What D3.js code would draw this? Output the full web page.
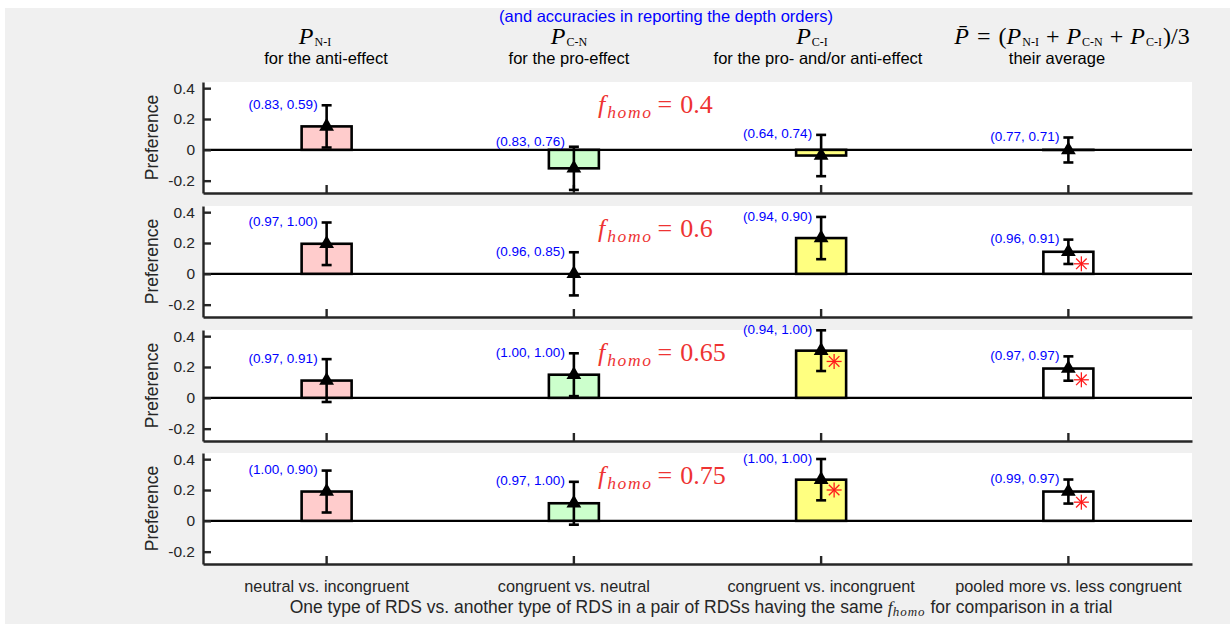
<!DOCTYPE html>
<html><head><meta charset="utf-8">
<script src="https://cdn.jsdelivr.net/npm/d3@7"></script>
<style>
html,body{margin:0;padding:0;background:#fff;}
svg{display:block;}
</style></head>
<body>
<svg id="chart" width="1230" height="624"></svg>
<script>
// ---------------- data ----------------
const categories = ["neutral vs. incongruent", "congruent vs. neutral", "congruent vs. incongruent", "pooled more vs. less congruent"];
const fhomoLabels = ["0.4", "0.6", "0.65", "0.75"];
// mean preference per panel (rows: f_homo) and category (cols)
const means = [
  [0.152, -0.120, -0.037, -0.001],
  [0.195,  0.000,  0.232,  0.143],
  [0.112,  0.150,  0.306,  0.190],
  [0.190,  0.114,  0.267,  0.190]
];
// half-length of error bars
const errs = [
  [0.137, 0.140, 0.134, 0.081],
  [0.138, 0.140, 0.137, 0.079],
  [0.139, 0.139, 0.132, 0.079],
  [0.136, 0.139, 0.134, 0.078]
];
// significance asterisks (null = none)
const stars = [
  [null, null, null, null],
  [null, null, null, 0.065],
  [null, null, 0.236, 0.117],
  [null, null, 0.200, 0.121]
];
// accuracies in reporting depth orders (first, second)
const accA = [
  [0.83, 0.83, 0.64, 0.77],
  [0.97, 0.96, 0.94, 0.96],
  [0.97, 1.00, 0.94, 0.97],
  [1.00, 0.97, 1.00, 0.99]
];
const accB = [
  [0.59, 0.76, 0.74, 0.71],
  [1.00, 0.85, 0.90, 0.91],
  [0.91, 1.00, 1.00, 0.97],
  [0.90, 1.00, 1.00, 0.97]
];
const yTicks = [-0.2, 0, 0.2, 0.4];
const yTickLabels = ["-0.2", "0", "0.2", "0.4"];
const headerSubs = ["N-I", "C-N", "C-I"];
const headerTexts = ["for the anti-effect", "for the pro-effect", "for the pro- and/or anti-effect", "their average"];
const barColors = ["#ffcccc", "#ccffcc", "#ffff80", "#ffffff"];

// ---------------- layout ----------------
const svg = d3.select("#chart");
const W = 1230, H = 624;
const axL = 203, axR = 1192;
const panelTops = [82, 206, 330, 453];
const panelH = 111;
const axisColor = "#262626";
const sans = "'Liberation Sans', Arial, Helvetica, sans-serif";
const serif = "'Liberation Serif', 'DejaVu Serif', 'Times New Roman', serif";

svg.append("rect").attr("x", 5).attr("y", 8).attr("width", W - 5).attr("height", H - 8).attr("fill", "#f0f0f0");

const x = d3.scaleBand().domain(categories).range([axL, axR]);
const bw = 50;

panelTops.forEach((top, p) => {
  const y = d3.scaleLinear().domain([-0.28, 0.44]).range([top + panelH, top]);
  const g = svg.append("g");
  g.append("rect").attr("x", axL).attr("y", top).attr("width", axR - axL).attr("height", panelH).attr("fill", "#fff");

  // zero line
  g.append("line").attr("x1", axL).attr("x2", axR).attr("y1", y(0)).attr("y2", y(0))
    .attr("stroke", "#000").attr("stroke-width", 2.4);

  // axes
  const yAxis = d3.axisLeft(y).tickValues(yTicks).tickFormat((d, i) => yTickLabels[i]).tickSizeInner(-8).tickSizeOuter(0);
  const ya = g.append("g").attr("transform", `translate(${axL},0)`).call(yAxis);
  ya.select(".domain").attr("stroke", axisColor).attr("stroke-width", 2.4);
  ya.selectAll(".tick line").attr("stroke", axisColor).attr("stroke-width", 2.4);
  ya.selectAll(".tick text").attr("fill", axisColor).style("font-family", sans).style("font-size", "15.5px").attr("x", -8);

  const xAxis = d3.axisBottom(x).tickSizeInner(-8).tickSizeOuter(0).tickFormat(p === 3 ? (d => d) : (() => ""));
  const xa = g.append("g").attr("transform", `translate(0,${top + panelH})`).call(xAxis);
  xa.select(".domain").attr("stroke", axisColor).attr("stroke-width", 2.4);
  xa.selectAll(".tick line").attr("stroke", axisColor).attr("stroke-width", 2.4);
  xa.selectAll(".tick text").attr("fill", axisColor).style("font-family", sans).style("font-size", "16.3px").attr("y", 16).attr("dy", "0.71em");

  // y label
  g.append("text").attr("transform", `translate(158,${top + panelH / 2}) rotate(-90)`)
    .attr("text-anchor", "middle").attr("fill", axisColor)
    .style("font-family", sans).style("font-size", "17.5px").text("Preference");

  categories.forEach((c, i) => {
    const cx = x(c) + x.bandwidth() / 2;
    const m = means[p][i], e = errs[p][i];
    // bar
    g.append("rect").attr("x", cx - bw / 2).attr("width", bw)
      .attr("y", Math.min(y(m), y(0))).attr("height", Math.abs(y(m) - y(0)))
      .attr("fill", barColors[i]).attr("stroke", "#000").attr("stroke-width", 2.6);
    // error bar
    const eb = g.append("g").attr("stroke", "#000").attr("stroke-width", 2.6);
    eb.append("line").attr("x1", cx).attr("x2", cx).attr("y1", y(m - e)).attr("y2", y(m + e));
    eb.append("line").attr("x1", cx - 5).attr("x2", cx + 5).attr("y1", y(m - e)).attr("y2", y(m - e));
    eb.append("line").attr("x1", cx - 5).attr("x2", cx + 5).attr("y1", y(m + e)).attr("y2", y(m + e));
    // triangle marker
    g.append("path").attr("d", d3.symbol(d3.symbolTriangle, 95)())
      .attr("transform", `translate(${cx},${y(m)})`).attr("fill", "#000");
    // asterisk
    if (stars[p][i] !== null) {
      const sx = cx + 13, sy = y(stars[p][i]), r = 7.5, rd = 5.3;
      const sg = g.append("g").attr("stroke", "#ff1a1a").attr("stroke-width", 1.3);
      sg.append("line").attr("x1", sx - r).attr("x2", sx + r).attr("y1", sy).attr("y2", sy);
      sg.append("line").attr("x1", sx).attr("x2", sx).attr("y1", sy - r).attr("y2", sy + r);
      sg.append("line").attr("x1", sx - rd).attr("x2", sx + rd).attr("y1", sy - rd).attr("y2", sy + rd);
      sg.append("line").attr("x1", sx - rd).attr("x2", sx + rd).attr("y1", sy + rd).attr("y2", sy - rd);
    }
    // accuracy label
    g.append("text").attr("x", cx - 9).attr("y", y(Math.max(m + e, 0.05)))
      .attr("text-anchor", "end").attr("dominant-baseline", "middle")
      .attr("fill", "#0000ff").style("font-family", sans).style("font-size", "13.5px")
      .text(`(${accA[p][i].toFixed(2)}, ${accB[p][i].toFixed(2)})`);
  });

  // f_homo label
  const ft = g.append("text").attr("x", 598).attr("y", top + 31).attr("fill", "#ee3333")
    .style("font-family", serif).style("font-size", "26px");
  ft.append("tspan").style("font-style", "italic").text("f");
  ft.append("tspan").style("font-style", "italic").style("font-size", "17.5px").style("letter-spacing", "1.6px")
    .attr("dy", 5).attr("dx", 2).text("homo");
  ft.append("tspan").attr("dy", -5).attr("dx", 5).text("=");
  ft.append("tspan").attr("dx", 8).text(fhomoLabels[p]);
});

// ---------------- headers ----------------
svg.append("text").attr("x", 666).attr("y", 22).attr("text-anchor", "middle")
  .attr("fill", "#0000ff").style("font-family", sans).style("font-size", "16.5px")
  .text("(and accuracies in reporting the depth orders)");

const mathX = [315, 569, 812];
headerSubs.forEach((s, i) => {
  const t = svg.append("text").attr("x", mathX[i]).attr("y", 44).attr("text-anchor", "middle")
    .attr("fill", "#000").style("font-family", serif).style("font-size", "24px");
  t.append("tspan").style("font-style", "italic").text("P");
  t.append("tspan").style("font-size", "12px").attr("dy", 2).attr("dx", 1).text(s);
});

// average formula
const f = svg.append("text").attr("x", 1072).attr("y", 44).attr("text-anchor", "middle")
  .attr("fill", "#000").style("font-family", serif).style("font-size", "24px");
f.append("tspan").style("font-style", "italic").text("P\u0304");
f.append("tspan").attr("dx", 8).text("=");
f.append("tspan").attr("dx", 8).text("(");
headerSubs.forEach((s, i) => {
  f.append("tspan").style("font-style", "italic").attr("dx", i > 0 ? 7 : 0).text("P");
  f.append("tspan").style("font-size", "12px").attr("dy", 2).attr("dx", 1).text(s);
  if (i < 2) {
    f.append("tspan").attr("dy", -2).attr("dx", 7).text("+");
  } else {
    f.append("tspan").attr("dy", -2).attr("dx", 1).text(")/3");
  }
});

const textX = [326, 569, 818, 1057];
headerTexts.forEach((s, i) => {
  svg.append("text").attr("x", textX[i]).attr("y", 64).attr("text-anchor", "middle")
    .attr("fill", "#000").style("font-family", sans).style("font-size", "16.5px").text(s);
});

// x-axis title
const xl = svg.append("text").attr("x", 701).attr("y", 613).attr("text-anchor", "middle")
  .attr("fill", axisColor).style("font-family", sans).style("font-size", "17.5px");
xl.append("tspan").text("One type of RDS vs. another type of RDS in a pair of RDSs having the same ");
xl.append("tspan").style("font-family", serif).style("font-style", "italic").text("f");
xl.append("tspan").style("font-family", serif).style("font-style", "italic").style("font-size", "13px")
  .style("letter-spacing", "1px").attr("dy", 3).text("homo");
xl.append("tspan").attr("dy", -3).text(" for comparison in a trial");
</script>
</body></html>
